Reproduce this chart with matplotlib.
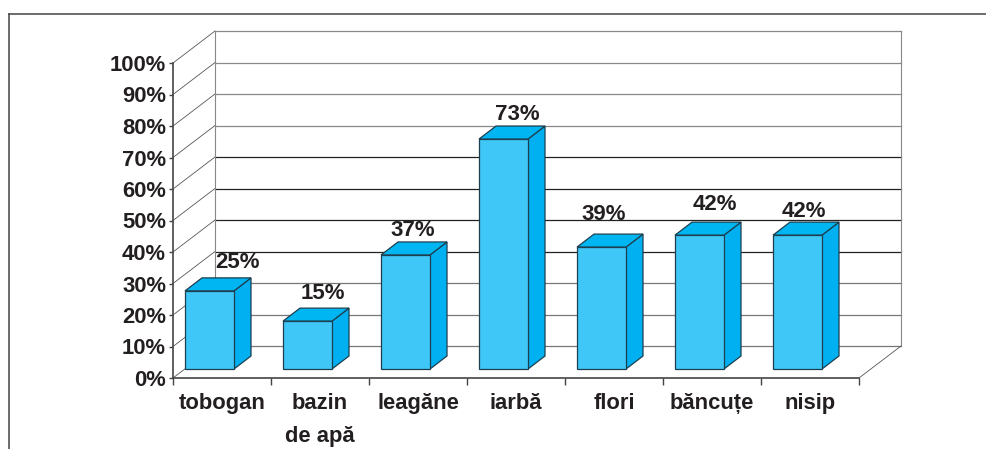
import matplotlib
matplotlib.use("Agg")
import matplotlib.pyplot as plt
from matplotlib.lines import Line2D

plt.rcParams['font.family'] = ['Liberation Sans', 'DejaVu Sans']

categories = ["tobogan", "bazin\nde apă", "leagăne", "iarbă", "flori", "băncuțe", "nisip"]
values = [25, 15, 37, 73, 39, 42, 42]
heights = [24.8, 15.2, 36.2, 73.0, 38.7, 42.5, 42.5]
y_ticks = [0, 10, 20, 30, 40, 50, 60, 70, 80, 90, 100]
y_labels = ["0%", "10%", "20%", "30%", "40%", "50%", "60%", "70%", "80%", "90%", "100%"]
grid_colors = ["#777777", "#777777", "#777777", "#222222", "#222222", "#222222",
               "#222222", "#888888", "#888888", "#888888", "#888888"]

# where the value labels sit relative to bar slot, in pixels
label_dx = [15, 3, -5, 1, -10, 3, -6]
label_dy = [37, 37, 31, 34, 41, 41, 34]

W, H = 986, 449
fig = plt.figure(figsize=(W / 100, H / 100), dpi=100)
ax = fig.add_axes([173 / W, (H - 378) / H, 686 / W, 315 / H])
ax.set_xlim(0, 7)
ax.set_ylim(0, 100)
ax.patch.set_visible(False)

# depth of the fake 3d box, in data units
depth_x = 42 / 98
depth_y = 32 / 3.15
# bars
bar_off = 12 / 98
bar_w = 49 / 98
bar_lift = 9 / 3.15
side_x = 17 / 98
side_y = 13 / 3.15

for v, col in zip(y_ticks, grid_colors):
    ax.plot([depth_x, 7 + depth_x], [v + depth_y, v + depth_y], color=col, lw=0.9,
            clip_on=False, zorder=1)
    ax.plot([0, depth_x], [v, v + depth_y], color="#555555", lw=0.6, clip_on=False, zorder=1)

ax.plot([depth_x, depth_x], [depth_y, 100 + depth_y], color="#888888", lw=0.8, clip_on=False, zorder=1)
ax.plot([7 + depth_x, 7 + depth_x], [depth_y, 100 + depth_y], color="#888888", lw=0.8, clip_on=False, zorder=1)
ax.plot([7, 7 + depth_x], [0, depth_y], color="#555555", lw=0.6, clip_on=False, zorder=1)

edge = "#1d3f4f"
for i, h in enumerate(heights):
    x0 = i + bar_off
    x1 = x0 + bar_w
    y0 = bar_lift
    y1 = y0 + h
    ax.fill([x1, x1 + side_x, x1 + side_x, x1], [y0, y0 + side_y, y1 + side_y, y1],
            facecolor="#00B0F0", edgecolor=edge, lw=0.9, clip_on=False, zorder=3)
    ax.fill([x0, x0 + side_x, x1 + side_x, x1], [y1, y1 + side_y, y1 + side_y, y1],
            facecolor="#00B6F2", edgecolor=edge, lw=0.9, clip_on=False, zorder=3)
    ax.fill([x0, x1, x1, x0], [y0, y0, y1, y1],
            facecolor="#3FC7F7", edgecolor=edge, lw=0.9, clip_on=False, zorder=4)
    ax.annotate(f"{values[i]}%", xy=(i + 0.5, values[i]),
                xytext=(label_dx[i] * 0.72, label_dy[i] * 0.72), textcoords="offset points",
                ha="center", va="center", fontsize=16, fontweight="bold", color="#231f20",
                zorder=5, annotation_clip=False)

for s in ["top", "right"]:
    ax.spines[s].set_visible(False)
for s in ["left", "bottom"]:
    ax.spines[s].set_color("#444444")
    ax.spines[s].set_linewidth(1.2)
    ax.spines[s].set_zorder(2)

ax.set_yticks(y_ticks)
ax.set_yticklabels(y_labels, fontsize=15.8, fontweight="bold", color="#231f20")
ax.tick_params(axis="y", length=3, width=1, color="#444444", pad=2)
ax.set_xticks(range(8))
ax.set_xticklabels([])
ax.tick_params(axis="x", which="major", length=5, width=1, color="#444444")
ax.set_xticks([i + 0.5 for i in range(7)], minor=True)
ax.set_xticklabels(categories, minor=True, fontsize=15.8, fontweight="bold", color="#231f20",
                   linespacing=1.75)
ax.tick_params(axis="x", which="minor", length=0, pad=11)

# outer frame, only top and left are visible
fig.add_artist(Line2D([9 / W, 9 / W], [0, (H - 14) / H], color="#444444", lw=1.1))
fig.add_artist(Line2D([9 / W, 1], [(H - 14) / H, (H - 14) / H], color="#444444", lw=1.1))

fig.savefig("out.png", dpi=100)
